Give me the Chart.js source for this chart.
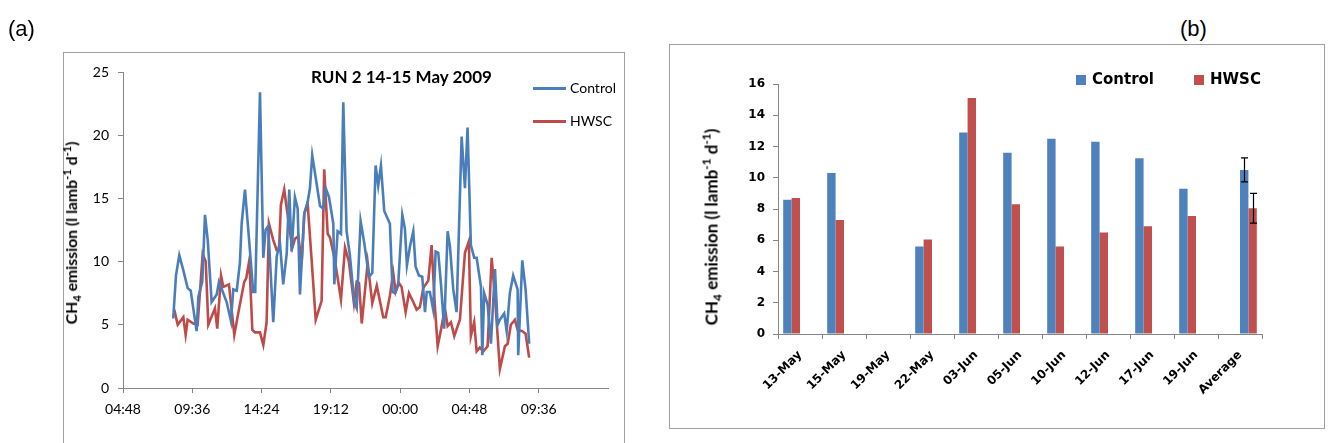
<!DOCTYPE html>
<html>
<head>
<meta charset="utf-8">
<script src="https://cdn.jsdelivr.net/npm/chart.js@4.4.0/dist/chart.umd.min.js"></script>
<style>
  html, body { margin: 0; padding: 0; background: #fff; }
  #page { position: relative; width: 1328px; height: 443px; overflow: hidden; background: #fff; }
  canvas { position: absolute; }
  .frame { position: absolute; border: 1px solid #a0a0a0; box-sizing: border-box; }
  .panel-label { position: absolute; font-family: 'Liberation Sans', Arial, sans-serif; font-size: 22px; color: #000; line-height: 1; }
  .ytitle { position: absolute; white-space: nowrap; font-weight: bold; color: #000; line-height: 1;
            transform: translate(-50%, -50%) rotate(-90deg); }
  .ytitle sub, .ytitle sup { font-size: 70%; line-height: 0; }
  .run-title { position: absolute; font-family: Lato, sans-serif; font-weight: bold; font-size: 17px; color: #000; white-space: nowrap; line-height: 1; }
  .leg-a { position: absolute; font-family: Lato, sans-serif; font-size: 14px; color: #000; line-height: 1; white-space: nowrap; }
  .leg-a i { position: absolute; left: -37px; top: 6px; width: 33px; height: 3px; }
  .leg-b { position: absolute; font-family: 'DejaVu Sans', sans-serif; font-weight: bold; font-size: 15px; color: #000; line-height: 1; white-space: nowrap; }
  .leg-b i { position: absolute; left: -16px; top: 3px; width: 10px; height: 10px; }
</style>
</head>
<body>
<div id="page">
  <div class="frame" style="left:63px; top:52px; width:562px; height:420px;"></div>
  <div class="frame" style="left:669px; top:44px; width:656px; height:385px;"></div>

  <canvas id="lineChart" width="650" height="443" style="left:0; top:0;"></canvas>
  <canvas id="barChart" width="655" height="383" style="left:670px; top:45px;"></canvas>

  <div class="panel-label" style="left:8px; top:18px;">(a)</div>
  <div class="panel-label" style="left:1180px; top:18px;">(b)</div>

  <div class="run-title" style="left:311px; top:68px;">RUN 2 14-15 May 2009</div>

  <div class="leg-a" style="left:570px; top:81px;"><i style="background:#4A7EBB"></i>Control</div>
  <div class="leg-a" style="left:570px; top:114px;"><i style="background:#BE4B48"></i>HWSC</div>

  <div class="leg-b" style="left:1092px; top:72px;"><i style="background:#4F81BD"></i>Control</div>
  <div class="leg-b" style="left:1210px; top:72px;"><i style="background:#C0504D"></i>HWSC</div>

  <div class="ytitle" style="left:71px; top:233px; font-family:Lato, sans-serif; font-size:15.8px;">CH<sub>4</sub> emission (l lamb<sup>-1</sup> d<sup>-1</sup>)</div>
  <div class="ytitle" style="left:711px; top:227px; font-family:Lato, sans-serif; font-size:17px;">CH<sub>4</sub> emission (l lamb<sup>-1</sup> d<sup>-1</sup>)</div>
</div>

<script>
// ---- Panel (a): CH4 emission over the 14-15 May 2009 run (hours since 00:00 on 14 May) ----
const controlHours = [8.28, 8.47, 8.70, 8.98, 9.28, 9.49, 9.90, 10.02, 10.29, 10.48, 10.67, 10.94, 11.29, 11.45, 11.75, 11.98, 12.28, 12.44, 12.68, 12.90, 13.02, 13.25, 13.48, 13.82, 13.96, 14.29, 14.52, 14.68, 14.86, 15.21, 15.45, 15.67, 15.90, 16.14, 16.32, 16.48, 16.71, 16.90, 17.06, 17.36, 17.59, 17.75, 17.91, 18.17, 18.45, 18.67, 18.84, 19.07, 19.37, 19.44, 19.67, 19.90, 20.06, 20.29, 20.52, 20.82, 20.99, 21.26, 21.51, 21.84, 22.07, 22.30, 22.48, 22.67, 22.90, 23.29, 23.48, 23.64, 23.87, 24.15, 24.33, 24.47, 24.68, 24.91, 25.07, 25.30, 25.53, 25.72, 25.84, 26.06, 26.29, 26.46, 26.64, 26.83, 27.05, 27.29, 27.45, 27.68, 27.91, 28.26, 28.49, 28.67, 28.90, 29.13, 29.30, 29.60, 29.69, 29.82, 30.06, 30.29, 30.57, 30.75, 30.91, 31.21, 31.38, 31.60, 31.83, 32.14, 32.18, 32.46, 32.69, 32.94];
const controlEmission = [5.5, 8.9, 10.5, 9.3, 7.9, 7.7, 4.5, 7.2, 8.4, 13.7, 11.7, 6.8, 7.4, 8.4, 7.5, 6.8, 5.3, 7.8, 7.7, 9.9, 13.0, 15.7, 12.5, 7.6, 7.6, 23.4, 10.3, 12.5, 12.8, 5.2, 10.4, 11.5, 8.2, 10.6, 15.7, 10.8, 15.1, 14.2, 7.4, 13.8, 14.7, 15.8, 18.4, 16.5, 14.4, 14.2, 15.8, 15.1, 13.0, 8.2, 12.4, 12.2, 22.6, 12.4, 10.5, 6.8, 6.3, 13.2, 11.5, 8.8, 9.1, 17.6, 16.0, 17.6, 14.0, 13.0, 7.6, 7.5, 8.3, 13.7, 12.6, 9.7, 11.2, 12.4, 9.6, 8.9, 8.8, 6.0, 7.6, 7.6, 6.2, 10.8, 10.7, 8.2, 4.7, 12.4, 11.2, 7.8, 6.0, 19.9, 15.8, 20.6, 11.3, 10.3, 10.3, 8.0, 2.6, 7.5, 6.6, 3.5, 9.4, 5.0, 5.4, 5.9, 4.5, 7.5, 8.9, 7.8, 2.6, 10.1, 7.8, 3.5];
const hwscHours = [8.35, 8.59, 8.98, 9.14, 9.28, 9.67, 9.97, 10.32, 10.53, 10.71, 11.17, 11.33, 11.59, 11.75, 12.14, 12.51, 12.83, 13.20, 13.34, 13.55, 13.76, 13.94, 14.29, 14.52, 14.75, 14.91, 15.21, 15.45, 15.61, 15.74, 15.97, 16.25, 16.53, 16.71, 16.94, 17.18, 17.36, 17.59, 17.87, 18.15, 18.56, 18.74, 18.98, 19.14, 19.48, 19.90, 20.18, 20.45, 20.80, 20.99, 21.15, 21.34, 21.75, 22.07, 22.38, 22.83, 23.00, 23.29, 23.52, 23.69, 23.92, 24.10, 24.38, 24.61, 24.91, 25.14, 25.37, 25.60, 25.95, 26.18, 26.41, 26.60, 26.83, 27.10, 27.29, 27.52, 27.75, 28.14, 28.49, 28.76, 28.90, 29.13, 29.30, 29.52, 29.76, 30.06, 30.34, 30.57, 30.91, 31.26, 31.45, 31.67, 31.95, 32.14, 32.46, 32.69, 32.94];
const hwscEmission = [6.2, 5.0, 5.6, 4.2, 5.4, 5.1, 5.0, 10.6, 10.0, 5.0, 6.3, 4.7, 8.9, 8.0, 8.2, 4.2, 6.2, 8.4, 8.7, 10.1, 4.6, 4.4, 4.4, 3.4, 5.2, 13.0, 11.7, 10.9, 10.9, 14.5, 15.7, 13.3, 11.1, 11.8, 12.0, 10.0, 13.8, 14.6, 10.1, 5.4, 6.9, 17.3, 12.2, 11.9, 10.1, 7.0, 11.1, 10.0, 6.7, 8.4, 8.3, 5.1, 9.9, 6.7, 8.1, 5.6, 5.6, 7.3, 9.1, 7.6, 8.3, 8.0, 6.0, 7.5, 6.8, 6.2, 6.4, 7.9, 8.5, 11.3, 6.4, 3.3, 4.6, 6.3, 4.9, 5.2, 4.1, 5.4, 10.7, 11.6, 4.1, 5.2, 2.9, 3.2, 2.9, 3.3, 10.3, 7.2, 1.5, 3.3, 3.5, 5.0, 5.4, 4.6, 4.5, 4.3, 2.4];
const timeTickHours = [4.8, 9.6, 14.4, 19.2, 24.0, 28.8, 33.6];
const timeTickLabels = ['04:48', '09:36', '14:24', '19:12', '00:00', '04:48', '09:36'];
const emissionTicks = [0, 5, 10, 15, 20, 25];

// ---- Panel (b): daily CH4 emission per sampling date, with the run average ----
const sampleDates = ['13-May', '15-May', '19-May', '22-May', '03-Jun', '05-Jun', '10-Jun', '12-Jun', '17-Jun', '19-Jun', 'Average'];
const controlDaily = [8.6, 10.3, null, 5.6, 12.9, 11.6, 12.5, 12.3, 11.25, 9.3, null];
const hwscDaily = [8.7, 7.3, null, 6.05, 15.1, 8.3, 5.6, 6.5, 6.9, 7.55, null];
const averageValues = [10.5, 8.05];     // Control, HWSC
const averageErrors = [0.77, 0.95];     // Control, HWSC
const dailyTicks = [0, 2, 4, 6, 8, 10, 12, 14, 16];

const AXIS_GREY = '#868686';

function toPoints(xs, ys) { return xs.map((x, i) => ({ x: x, y: ys[i] })); }

// Line chart
new Chart(document.getElementById('lineChart'), {
  type: 'line',
  data: {
    datasets: [
      { label: 'Control', data: toPoints(controlHours, controlEmission), borderColor: '#4A7EBB', borderWidth: 2.6, pointRadius: 0, tension: 0 },
      { label: 'HWSC', data: toPoints(hwscHours, hwscEmission), borderColor: '#BE4B48', borderWidth: 2.6, pointRadius: 0, tension: 0 }
    ]
  },
  options: {
    responsive: false,
    animation: false,
    events: [],
    layout: { padding: { left: 0, top: 72, right: 42, bottom: 0 } },
    plugins: { legend: { display: false }, tooltip: { enabled: false } },
    scales: {
      x: {
        type: 'linear', min: 4.8, max: 38.4,
        afterBuildTicks: s => { s.ticks = timeTickHours.map(v => ({ value: v })); },
        afterFit: s => { s.height = 55; },
        ticks: { autoSkip: false, maxRotation: 0, padding: 8, color: '#000',
                 font: { family: 'Lato', size: 14 },
                 callback: (v, i) => timeTickLabels[i] },
        grid: { drawOnChartArea: false, drawTicks: true, tickLength: 5, color: AXIS_GREY },
        border: { display: true, color: AXIS_GREY, width: 1 }
      },
      y: {
        min: 0, max: 25,
        afterBuildTicks: s => { s.ticks = emissionTicks.map(v => ({ value: v })); },
        afterFit: s => { s.width = 123; },
        ticks: { padding: 9, color: '#000', font: { family: 'Lato', size: 14 } },
        grid: { drawOnChartArea: false, drawTicks: true, tickLength: 5, color: AXIS_GREY },
        border: { display: true, color: AXIS_GREY, width: 1 }
      }
    }
  }
});

// Error bars on the two "Average" columns
const errorBarPlugin = {
  id: 'averageErrorBars',
  afterDatasetsDraw(chart) {
    const ctx = chart.ctx;
    const yScale = chart.scales.y;
    const idx = sampleDates.length - 1;
    [2, 3].forEach((dsIndex, k) => {
      const bar = chart.getDatasetMeta(dsIndex).data[idx];
      if (!bar) return;
      const x = Math.round(bar.x) + 0.5;
      const yTop = yScale.getPixelForValue(averageValues[k] + averageErrors[k]);
      const yBot = yScale.getPixelForValue(averageValues[k] - averageErrors[k]);
      ctx.save();
      ctx.strokeStyle = '#000';
      ctx.lineWidth = 1.2;
      ctx.beginPath();
      ctx.moveTo(x, yTop); ctx.lineTo(x, yBot);
      ctx.moveTo(x - 3.5, yTop); ctx.lineTo(x + 3.5, yTop);
      ctx.moveTo(x - 3.5, yBot); ctx.lineTo(x + 3.5, yBot);
      ctx.stroke();
      ctx.restore();
    });
  }
};

const lastOnly = v => sampleDates.map((_, i) => (i === sampleDates.length - 1 ? v : null));

new Chart(document.getElementById('barChart'), {
  type: 'bar',
  data: {
    labels: sampleDates,
    datasets: [
      { label: 'Control', data: controlDaily, backgroundColor: '#4F81BD' },
      { label: 'HWSC', data: hwscDaily, backgroundColor: '#C0504D' },
      { label: 'Control mean', data: lastOnly(averageValues[0]), backgroundColor: '#4F81BD' },
      { label: 'HWSC mean', data: lastOnly(averageValues[1]), backgroundColor: '#C0504D' }
    ]
  },
  options: {
    responsive: false,
    animation: false,
    events: [],
    layout: { padding: { left: 0, top: 39, right: 63, bottom: 0 } },
    datasets: { bar: { categoryPercentage: 0.764, barPercentage: 1.0 } },
    plugins: { legend: { display: false }, tooltip: { enabled: false } },
    scales: {
      x: {
        afterFit: s => { s.height = 94; },
        ticks: { autoSkip: false, minRotation: 45, maxRotation: 45, padding: 9, color: '#000',
                 font: { family: 'DejaVu Sans', size: 12, weight: 'bold' } },
        grid: { offset: true, drawOnChartArea: false, drawTicks: true, tickLength: 5, color: AXIS_GREY },
        border: { display: true, color: AXIS_GREY, width: 1 }
      },
      y: {
        min: 0, max: 16,
        afterBuildTicks: s => { s.ticks = dailyTicks.map(v => ({ value: v })); },
        afterFit: s => { s.width = 108; },
        ticks: { padding: 8, color: '#000', font: { family: 'DejaVu Sans', size: 12, weight: 'bold' } },
        grid: { drawOnChartArea: false, drawTicks: true, tickLength: 5, color: AXIS_GREY },
        border: { display: true, color: AXIS_GREY, width: 1 }
      }
    }
  },
  plugins: [errorBarPlugin]
});
</script>
</body>
</html>
